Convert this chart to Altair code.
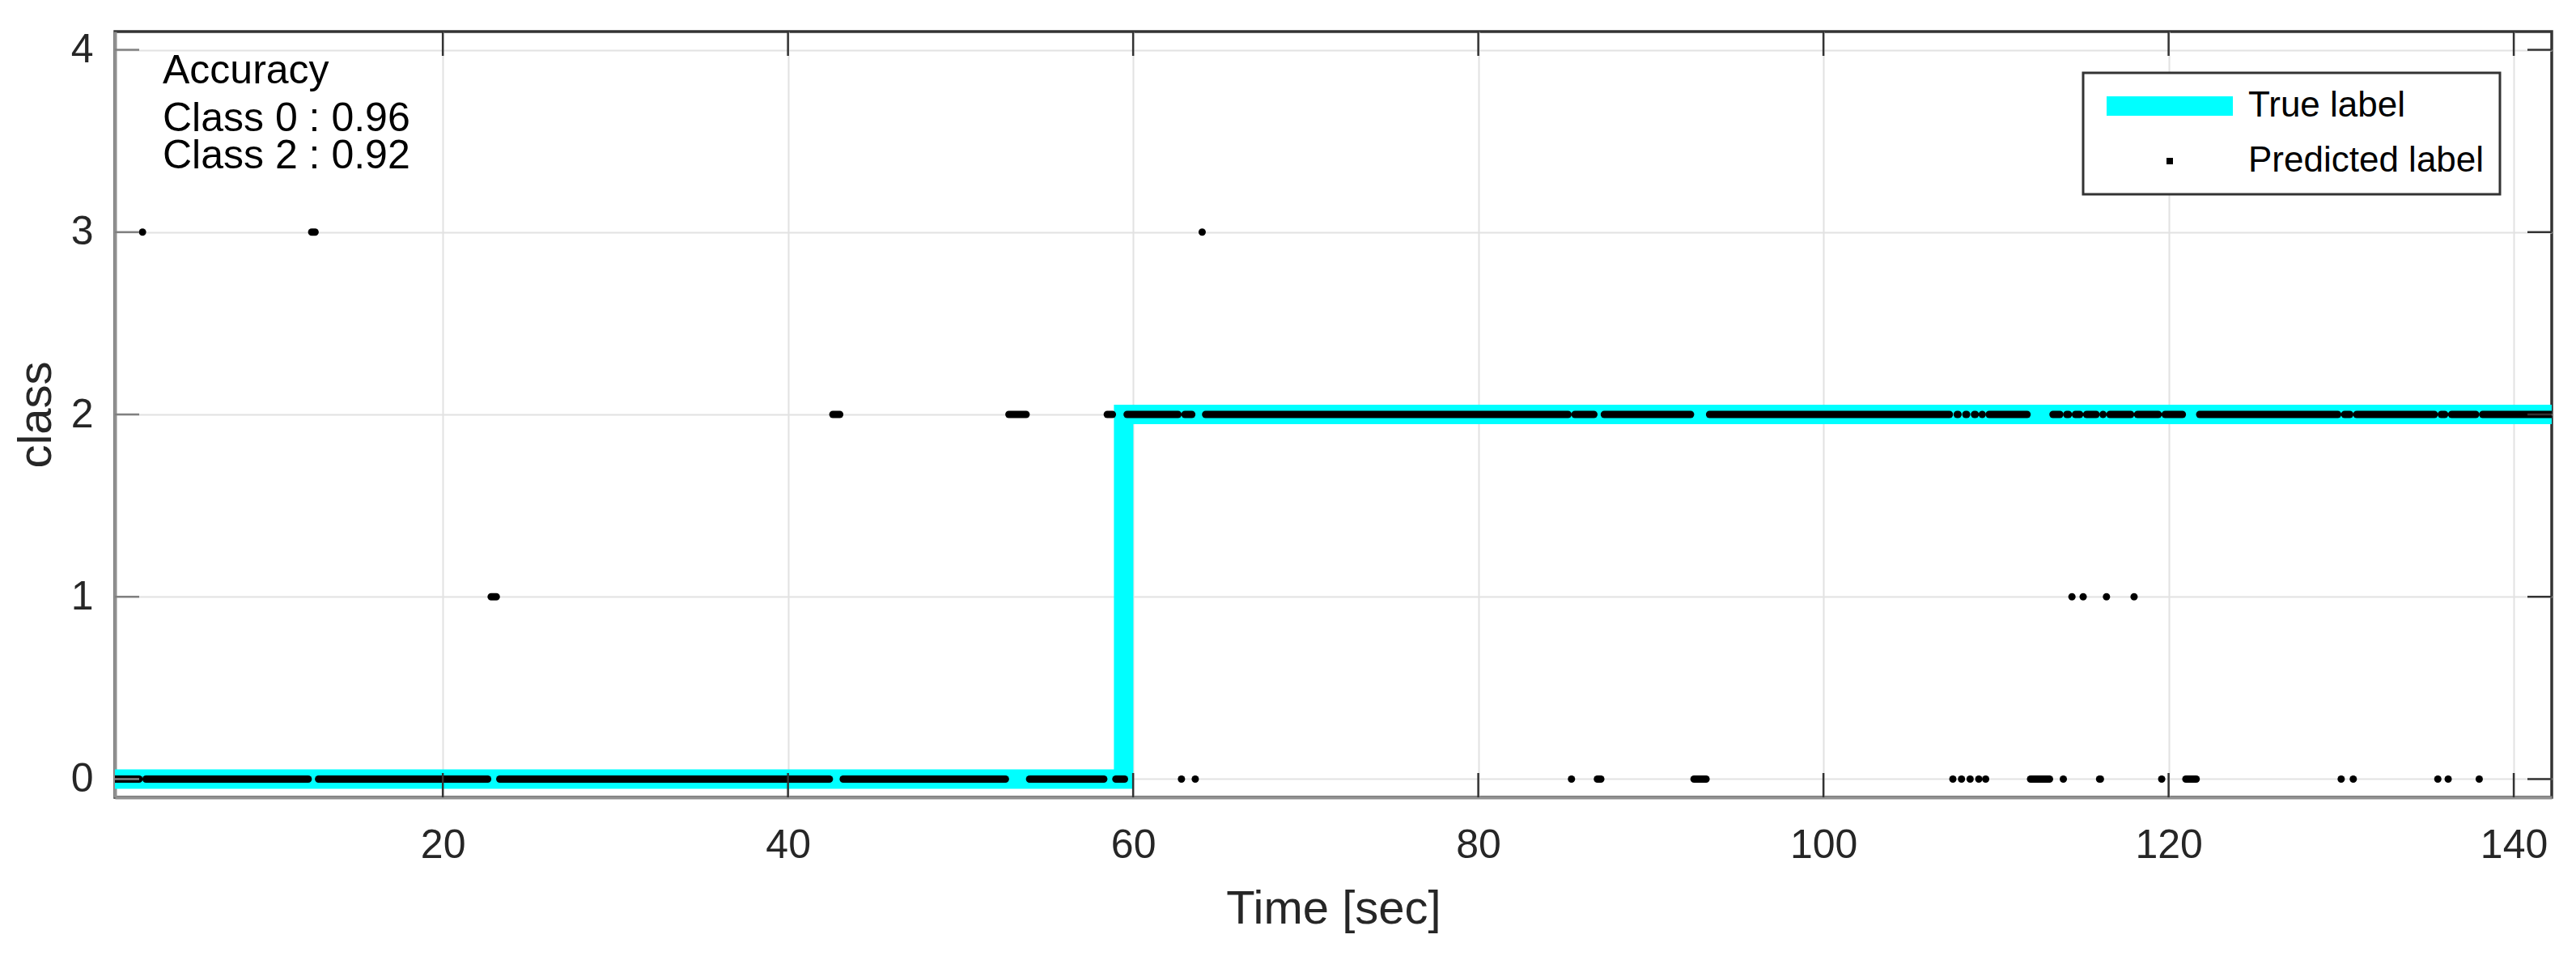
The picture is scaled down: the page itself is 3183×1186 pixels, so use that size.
import altair as alt
import pandas as pd

# ---------------- data ----------------
# True label (step signal)
true_time = [1.0, 59.45, 59.45, 142.2]
true_class = [0, 0, 2, 2]

# Predicted label, as runs of constant prediction: start time, end time, class
pred_start = [1.0, 2.6, 2.8, 12.4, 12.8, 22.8, 23.3, 42.6, 43.2, 52.8, 54.0, 58.5, 59.0,
              59.65, 62.8, 63.0, 63.6, 64.0, 64.2, 85.4, 85.6, 86.9, 87.3, 92.5, 93.4,
              107.5, 107.75, 108.0, 108.25, 108.5, 108.75, 109.0, 109.2, 109.4, 109.6,
              112.0, 113.3, 113.9, 114.1, 114.4, 114.6, 115.05, 115.25, 116.0, 116.2,
              116.4, 116.6, 118.0, 118.2, 119.6, 119.8, 121.0, 121.8, 130.0, 130.2,
              130.7, 130.9, 135.6, 135.8, 136.2, 136.4, 138.0, 138.2]
pred_end = [2.4, 2.6, 12.2, 12.6, 22.6, 23.1, 42.4, 43.0, 52.6, 53.8, 58.3, 58.8, 59.5,
            62.6, 62.8, 63.4, 63.6, 64.0, 85.2, 85.4, 86.7, 87.1, 92.3, 93.2, 107.3,
            107.5, 107.8, 108.0, 108.3, 108.5, 108.8, 109.0, 109.2, 109.4, 111.8,
            113.1, 113.7, 113.9, 114.2, 114.4, 114.85, 115.05, 115.8, 116.05, 116.2,
            116.4, 117.8, 118.0, 119.4, 119.6, 120.8, 121.6, 129.8, 130.0, 130.5,
            130.7, 135.4, 135.6, 136.0, 136.2, 137.8, 138.0, 142.2]
pred_class = [0, 3, 0, 3, 0, 1, 0, 2, 0, 2, 0, 2, 0,
              2, 0, 2, 0, 3, 2, 0, 2, 0, 2, 0, 2,
              0, 2, 0, 2, 0, 2, 0, 2, 0, 2,
              0, 2, 0, 2, 1, 2, 1, 2, 0, 2,
              1, 2, 1, 2, 0, 2, 0, 2, 0, 2,
              0, 2, 0, 2, 0, 2, 0, 2]

x_ticks = [20, 40, 60, 80, 100, 120, 140]
y_ticks = [0, 1, 2, 3, 4]
series_names = ["True label", "Predicted label"]
series_colors = ["#00ffff", "#000000"]
acc_title = "Accuracy"
acc_lines = ["Class 0 : 0.96", "Class 2 : 0.92"]
x_title = "Time [sec]"
y_title = "class"

# ---------------- layout ----------------
W, H = 3011, 946
FONT = "Liberation Sans, Arial, Helvetica, sans-serif"

true_df = pd.DataFrame({"time": true_time, "cls": true_class,
                        "idx": list(range(len(true_time))),
                        "series": series_names[0]})
pred_df = pd.DataFrame({"start": pred_start, "end": pred_end, "cls": pred_class,
                        "series": series_names[1]})
xt_df = pd.DataFrame({"v": x_ticks})
yt_df = pd.DataFrame({"v": y_ticks})

xs = alt.Scale(domain=[1.0, 142.2], nice=False, zero=False)
ys = alt.Scale(domain=[-0.1, 4.1], nice=False, zero=False)

xaxis = alt.Axis(values=x_ticks, title=x_title, grid=True, ticks=False,
                 labelFontSize=50, labelFont=FONT, labelColor="#262626",
                 labelPadding=34, labelFlush=False,
                 domainColor="#909090", domainWidth=4,
                 gridColor="#e2e2e2", gridWidth=2,
                 titleFont=FONT, titleFontSize=58, titleFontWeight="normal",
                 titleColor="#262626", titleX=W / 2, titleY=155,
                 titleBaseline="alphabetic", titleAlign="center")
yaxis = alt.Axis(values=y_ticks, title=y_title, grid=True, ticks=False,
                 labelFontSize=50, labelFont=FONT, labelColor="#262626",
                 labelPadding=27, labelFlush=False,
                 domainColor="#909090", domainWidth=4,
                 gridColor="#e2e2e2", gridWidth=2,
                 titleFont=FONT, titleFontSize=58, titleFontWeight="normal",
                 titleColor="#262626", titleX=-80, titleY=473, titleAngle=270,
                 titleBaseline="alphabetic", titleAlign="center")

# legend symbols: a wide cyan bar for the true label, a small dot for predictions
bar_path = "M-19.5,-2H19.5M-19.5,0H19.5M-19.5,2H19.5"
dot_path = "M-1,0H1"
legend = alt.Legend(
    orient="none", legendX=2432, legendY=51, title=None,
    labelFont=FONT, labelFontSize=44, labelColor="#000000", labelLimit=600,
    padding=19, rowPadding=22, symbolOffset=66, labelOffset=75,
    symbolSize=64, symbolStrokeWidth=8,
    symbolType=alt.ExprRef(expr=f"datum.value === '{series_names[0]}' ? '{bar_path}' : '{dot_path}'"),
    strokeColor="#333333", fillColor="#ffffff",
)
cscale = alt.Scale(domain=series_names, range=series_colors)

true_line = alt.Chart(true_df).mark_line(strokeWidth=24, clip=True, strokeCap="butt").encode(
    x=alt.X("time:Q", scale=xs, axis=xaxis),
    y=alt.Y("cls:Q", scale=ys, axis=yaxis),
    order=alt.Order("idx:Q"),
    color=alt.Color("series:N", scale=cscale, legend=legend),
)

pred = alt.Chart(pred_df).mark_rule(strokeWidth=9, strokeCap="round", clip=True).encode(
    x=alt.X("start:Q", scale=xs, axis=xaxis),
    x2="end:Q",
    y=alt.Y("cls:Q", scale=ys, axis=yaxis),
    color=alt.Color("series:N", scale=cscale, legend=legend),
)

TL = 30
xt_bottom = alt.Chart(xt_df).mark_rule(color="#333333", strokeWidth=2.5).encode(
    x=alt.X("v:Q", scale=xs, axis=xaxis), y=alt.value(H), y2=alt.value(H - TL))
xt_top = alt.Chart(xt_df).mark_rule(color="#333333", strokeWidth=2.5).encode(
    x=alt.X("v:Q", scale=xs, axis=xaxis), y=alt.value(0), y2=alt.value(TL))
yt_left = alt.Chart(yt_df).mark_rule(color="#808080", strokeWidth=2.5).encode(
    y=alt.Y("v:Q", scale=ys, axis=yaxis), x=alt.value(0), x2=alt.value(TL))
yt_right = alt.Chart(yt_df).mark_rule(color="#333333", strokeWidth=2.5).encode(
    y=alt.Y("v:Q", scale=ys, axis=yaxis), x=alt.value(W), x2=alt.value(W - TL))

txt1 = alt.Chart(pd.DataFrame({"t": [acc_title]})).mark_text(
    align="left", baseline="alphabetic", font=FONT, fontSize=50, color="#000000"
).encode(x=alt.value(59), y=alt.value(64), text="t:N")
txt2 = alt.Chart(pd.DataFrame({"t": [acc_lines[0]]})).mark_text(
    align="left", baseline="alphabetic", font=FONT, fontSize=50, color="#000000",
    text=acc_lines, lineHeight=46,
).encode(x=alt.value(59), y=alt.value(123))

chart = alt.layer(true_line, pred, xt_bottom, xt_top, yt_left, yt_right, txt1, txt2).properties(
    width=W, height=H,
    autosize=alt.AutoSizeParams(type="none"),
    padding={"left": 134, "top": 31, "right": 20, "bottom": 190},
    background="#ffffff",
).configure_view(stroke="#333333", strokeWidth=3.5).configure_legend(strokeWidth=3)

chart.save("out.html", embed_options={"renderer": "svg", "actions": False})
